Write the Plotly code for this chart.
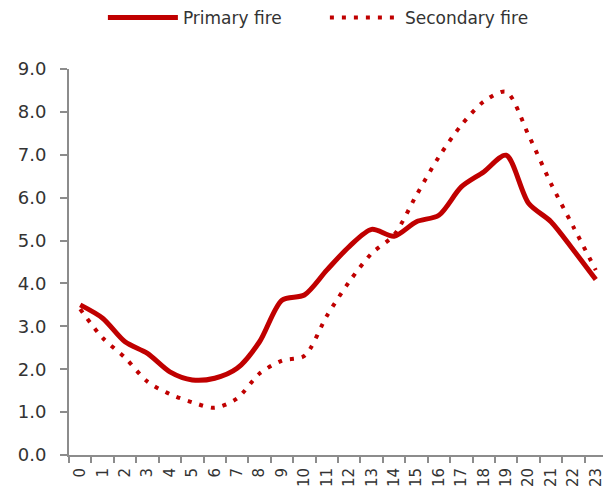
import plotly.graph_objects as go

hours = [str(h) for h in range(24)]
primary_fire = [3.50, 3.19, 2.64, 2.37, 1.94, 1.75, 1.79, 2.02, 2.64, 3.61, 3.73, 4.31,
                4.86, 5.26, 5.10, 5.44, 5.59, 6.25, 6.60, 6.99, 5.87, 5.44, 4.78, 4.09]
secondary_fire = [3.40, 2.73, 2.27, 1.71, 1.42, 1.23, 1.10, 1.32, 1.90, 2.20, 2.31, 3.24,
                  4.04, 4.70, 5.13, 6.06, 6.95, 7.69, 8.24, 8.47, 7.46, 6.33, 5.32, 4.31]
y_ticks = [0, 1, 2, 3, 4, 5, 6, 7, 8, 9]

RED = "#C00000"
AXIS = "#8C8C8C"
FONT = "DejaVu Sans"
TXT = "#333333"

fig = go.Figure()
fig.add_trace(go.Scatter(x=hours, y=primary_fire, name="Primary fire", mode="lines",
                         line=dict(color=RED, width=5, shape="spline", smoothing=0.8)))
fig.add_trace(go.Scatter(x=hours, y=secondary_fire, name="Secondary fire", mode="lines",
                         line=dict(color=RED, width=4, shape="spline", smoothing=0.8,
                                   dash="4px,8px")))

# page body adds an 8px offset; figure sized to fit the 611x490 window
fig.update_layout(
    width=603, height=482,
    margin=dict(l=61, r=4, t=61, b=35, autoexpand=False),
    paper_bgcolor="white", plot_bgcolor="white",
    font=dict(family=FONT, size=16, color=TXT),
    showlegend=True,
    legend=dict(orientation="h", x=0.063, xanchor="left", y=1.132, yanchor="middle",
                itemwidth=70, entrywidth=137, font=dict(size=17, color=TXT),
                bgcolor="rgba(0,0,0,0)"),
    xaxis=dict(type="category", range=[-0.5, 23.5], tickson="boundaries",
               showline=True, linecolor=AXIS, linewidth=2, ticks="outside",
               ticklen=6, tickcolor=AXIS, tickwidth=1.5, tickangle=-90,
               showgrid=False, zeroline=False, tickfont=dict(size=15),
               ticklabelstandoff=5, automargin=False),
    yaxis=dict(range=[0, 9], tickvals=y_ticks, ticktext=[f"{v:.1f}" for v in y_ticks],
               showline=True, linecolor=AXIS, linewidth=2, ticks="outside",
               ticklen=7, tickcolor=AXIS, tickwidth=1.5, showgrid=False,
               zeroline=False, tickfont=dict(size=18), ticklabelstandoff=10,
               automargin=False),
)

fig.write_html("out.html")
